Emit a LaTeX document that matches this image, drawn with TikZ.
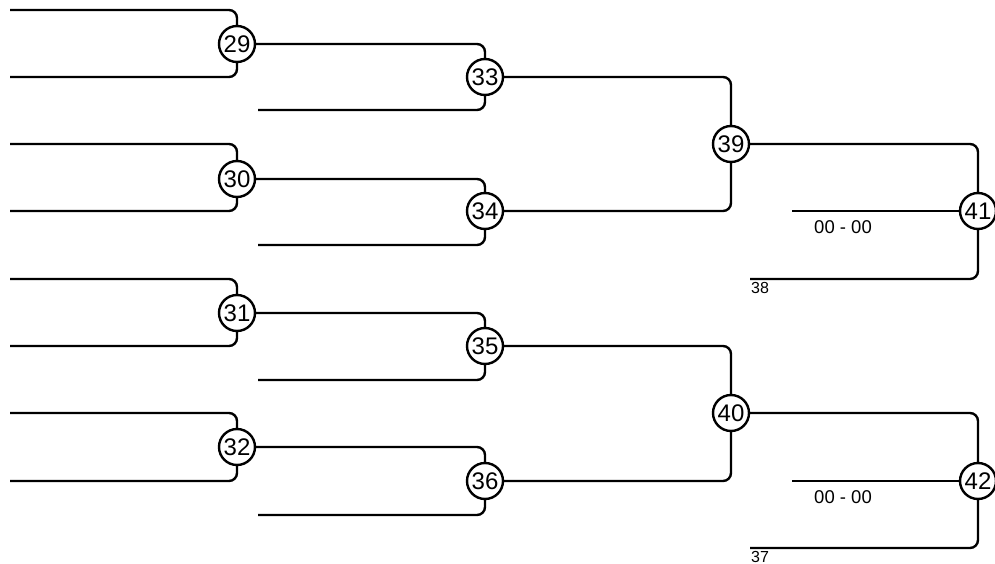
\documentclass[tikz,border=0pt]{standalone}
\usepackage{fontspec}
\setmainfont{Liberation Sans}
\begin{document}
\begin{tikzpicture}[x=1pt,y=-1pt,
  match/.style={circle,draw,line width=2.4pt,fill=white,minimum size=36pt,inner sep=0pt,font=\fontsize{24}{26}\selectfont},
  wire/.style={line width=2.4pt,rounded corners=8pt},
  score/.style={font=\fontsize{18.5}{20}\selectfont},
  src/.style={font=\fontsize{16}{18}\selectfont}]
\useasboundingbox (0,0) rectangle (995,564);
% round 1
\node[match] (n29) at (237,44) {29};
\node[match] (n30) at (237,179) {30};
\node[match] (n31) at (237,313) {31};
\node[match] (n32) at (237,447) {32};
% round 2
\node[match] (n33) at (485,77) {33};
\node[match] (n34) at (485,211) {34};
\node[match] (n35) at (485,346) {35};
\node[match] (n36) at (485,481) {36};
% round 3
\node[match] (n39) at (731,144) {39};
\node[match] (n40) at (731,413) {40};
% final
\node[match] (n41) at (978,211) {41};
\node[match] (n42) at (978,481) {42};
% free ends
\coordinate (a1) at (10,10);  \coordinate (a2) at (10,77);
\coordinate (a3) at (10,144); \coordinate (a4) at (10,211);
\coordinate (a5) at (10,279); \coordinate (a6) at (10,346);
\coordinate (a7) at (10,413); \coordinate (a8) at (10,481);
\coordinate (b1) at (258,110); \coordinate (b2) at (258,245);
\coordinate (b3) at (258,380); \coordinate (b4) at (258,515);
\coordinate (c1) at (792,211); \coordinate (d1) at (750,279);
\coordinate (c2) at (792,481); \coordinate (d2) at (750,548);
% wires round 1
\draw[wire] (a1) -| (n29); \draw[wire] (a2) -| (n29);
\draw[wire] (a3) -| (n30); \draw[wire] (a4) -| (n30);
\draw[wire] (a5) -| (n31); \draw[wire] (a6) -| (n31);
\draw[wire] (a7) -| (n32); \draw[wire] (a8) -| (n32);
% round 2
\draw[wire] (n29) -| (n33); \draw[wire] (b1) -| (n33);
\draw[wire] (n30) -| (n34); \draw[wire] (b2) -| (n34);
\draw[wire] (n31) -| (n35); \draw[wire] (b3) -| (n35);
\draw[wire] (n32) -| (n36); \draw[wire] (b4) -| (n36);
% round 3
\draw[wire] (n33) -| (n39); \draw[wire] (n34) -| (n39);
\draw[wire] (n35) -| (n40); \draw[wire] (n36) -| (n40);
% final
\draw[wire] (n39) -| (n41); \draw[wire] (c1) -- (n41); \draw[wire] (d1) -| (n41);
\draw[wire] (n40) -| (n42); \draw[wire] (c2) -- (n42); \draw[wire] (d2) -| (n42);
% labels
\node[score] (s1) at (843,227) {00 - 00};
\node[score] (s2) at (843,497) {00 - 00};
\node[src] (l38) at (760,288) {38};
\node[src] (l37) at (760,557) {37};
\end{tikzpicture}
\end{document}
